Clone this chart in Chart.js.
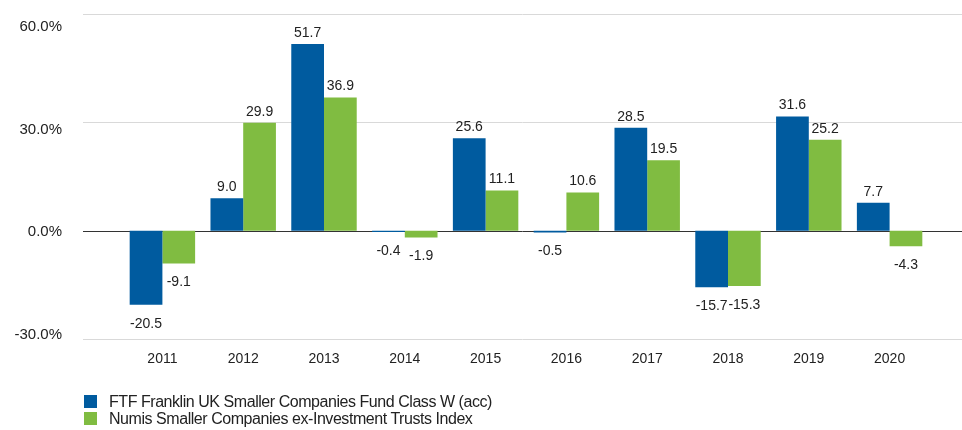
<!DOCTYPE html>
<html>
<head>
<meta charset="utf-8">
<script src="https://cdn.jsdelivr.net/npm/chart.js@4.4.1/dist/chart.umd.min.js"></script>
<style>
  html, body { margin: 0; padding: 0; background: #fff; }
  #wrap { position: relative; width: 962px; height: 430px; }
  #legend { position: absolute; left: 84px; top: 393px; font-family: "Liberation Sans", Arial, sans-serif; font-size: 16px; letter-spacing: -0.45px; color: #222; }
  .item { display: flex; align-items: center; height: 17px; }
  .box { width: 13px; height: 13px; margin-right: 12px; }
</style>
</head>
<body>
<div id="wrap">
  <canvas id="chart" width="962" height="430"></canvas>
  <div id="legend"></div>
</div>
<script>
// === データ ===
const years = ['2011', '2012', '2013', '2014', '2015', '2016', '2017', '2018', '2019', '2020'];
const fundName = 'FTF Franklin UK Smaller Companies Fund Class W (acc)';
const indexName = 'Numis Smaller Companies ex-Investment Trusts Index';
const fundValues = [-20.5, 9.0, 51.7, -0.4, 25.6, -0.5, 28.5, -15.7, 31.6, 7.7];
const indexValues = [-9.1, 29.9, 36.9, -1.9, 11.1, 10.6, 19.5, -15.3, 25.2, -4.3];
const yTicks = [60, 30, 0, -30];

const blue = '#005b9f', green = '#80bc41';
const FONT = '"Liberation Sans", Arial, sans-serif';

// 横の目盛線はプロット領域より左右に長いので自前で描く
const gridLines = {
  id: 'gridLines',
  beforeDatasetsDraw(chart) {
    const { ctx } = chart;
    const y = chart.scales.y;
    ctx.save();
    yTicks.forEach(v => {
      const py = Math.round(y.getPixelForValue(v)) + 0.5;
      ctx.strokeStyle = v === 0 ? '#333333' : '#d9d9d9';
      ctx.lineWidth = 1;
      ctx.beginPath();
      ctx.moveTo(83, py);
      ctx.lineTo(chart.width, py);
      ctx.stroke();
    });
    ctx.restore();
  }
};

// 棒の値ラベル
const valueLabels = {
  id: 'valueLabels',
  afterDatasetsDraw(chart) {
    const { ctx } = chart;
    ctx.save();
    ctx.font = '14px ' + FONT;
    ctx.fillStyle = '#222';
    ctx.textAlign = 'center';
    ctx.textBaseline = 'middle';
    chart.data.datasets.forEach((ds, di) => {
      chart.getDatasetMeta(di).data.forEach((bar, i) => {
        const v = ds.data[i];
        const y = v >= 0 ? bar.y - 11 : bar.y + 19;
        ctx.fillText(v.toFixed(1), bar.x, y);
      });
    });
    ctx.restore();
  }
};

new Chart(document.getElementById('chart'), {
  type: 'bar',
  data: {
    labels: years,
    datasets: [
      { label: fundName, data: fundValues, backgroundColor: blue, yAxisID: 'y' },
      { label: indexName, data: indexValues, backgroundColor: green, yAxisID: 'y' }
    ]
  },
  options: {
    responsive: false,
    animation: false,
    layout: { padding: { left: 0, right: 32, top: 14, bottom: 61 } },
    datasets: { bar: { categoryPercentage: 0.81, barPercentage: 1.0 } },
    plugins: { legend: { display: false }, tooltip: { enabled: false } },
    scales: {
      x: {
        grid: { display: false, drawTicks: false }, border: { display: false },
        afterFit: (axis) => { axis.height = 30; },
        ticks: { color: '#222', font: { family: FONT, size: 14 }, padding: 12 }
      },
      // 棒用の軸（表示しない）
      y: { min: -30, max: 60, display: false },
      // 目盛ラベル用の軸：元の図ではラベルの間隔が目盛線より少し詰まっている
      yl: {
        position: 'left', min: -31.3, max: 63.8,
        afterFit: (axis) => { axis.width = 122; },
        afterBuildTicks: (axis) => { axis.ticks = yTicks.map(v => ({ value: v })); },
        grid: { display: false, drawTicks: true, tickLength: 57 }, border: { display: false },
        ticks: { color: '#222', font: { family: FONT, size: 15 }, padding: 3, callback: (v) => v.toFixed(1) + '%' }
      }
    }
  },
  plugins: [gridLines, valueLabels]
});

// 凡例（縦並び）
const legend = document.getElementById('legend');
[[fundName, blue], [indexName, green]].forEach(([name, color]) => {
  const row = document.createElement('div');
  row.className = 'item';
  row.innerHTML = `<span class="box" style="background:${color}"></span><span>${name}</span>`;
  legend.appendChild(row);
});
</script>
</body>
</html>
